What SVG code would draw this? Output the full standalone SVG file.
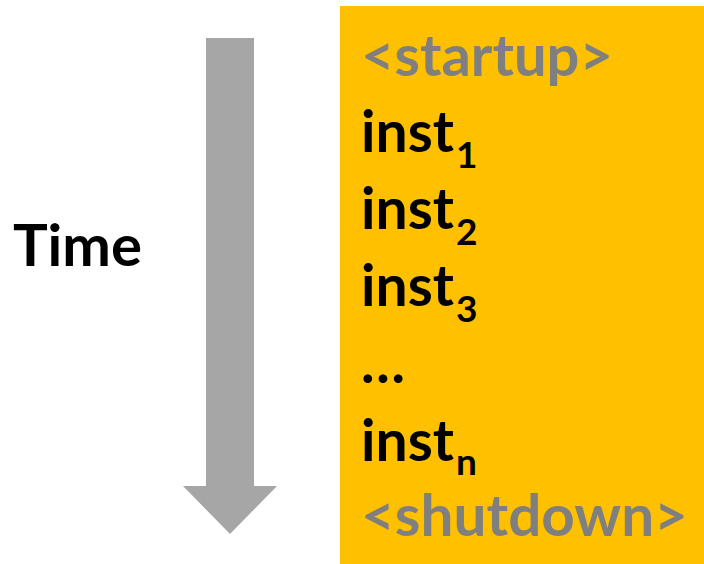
<svg xmlns="http://www.w3.org/2000/svg" width="704" height="564" viewBox="0 0 704 564">
  <style>
    .t { font-family: "Lato", "Open Sans", "Liberation Sans", sans-serif; font-weight: 700; font-size: 57px; }
    .dark { fill: #000000; }
    .grey { fill: #7F7F7F; }
    .sub { font-size: 37px; }
  </style>
  <rect width="704" height="564" fill="#FFFFFF"/>

  <!-- time label -->
  <g id="time-label">
    <text class="t dark" x="13" y="266" style="font-size:58px" textLength="129" lengthAdjust="spacingAndGlyphs">Time</text>
  </g>

  <!-- downward time arrow -->
  <g id="time-arrow">
    <polygon points="206,38 254,38 254,486 277,486 230,534 183,486 206,486" fill="#A6A6A6"/>
  </g>

  <!-- instruction sequence -->
  <g id="sequence">
    <rect x="340" y="6" width="364" height="558" fill="#FFC000"/>
    <text class="t grey" x="361" y="76" textLength="252" lengthAdjust="spacingAndGlyphs">&lt;startup&gt;</text>
    <text class="t dark" x="361" y="152">inst<tspan class="sub" dx="2" dy="16">1</tspan></text>
    <text class="t dark" x="361" y="229">inst<tspan class="sub" dx="2" dy="16">2</tspan></text>
    <text class="t dark" x="361" y="306">inst<tspan class="sub" dx="2" dy="16">3</tspan></text>
    <text class="t dark" x="361" y="383">…</text>
    <text class="t dark" x="361" y="461">inst<tspan class="sub" dx="2" dy="14">n</tspan></text>
    <text class="t grey" x="361" y="536" textLength="327" lengthAdjust="spacingAndGlyphs">&lt;shutdown&gt;</text>
  </g>
</svg>
